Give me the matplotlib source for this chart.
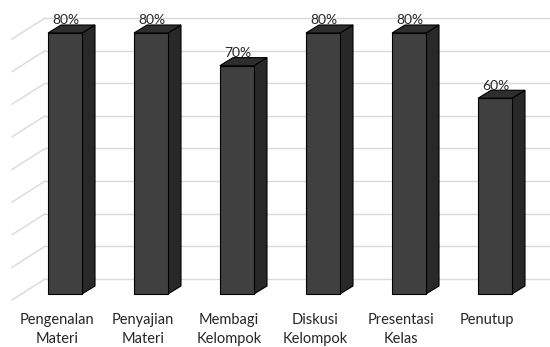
import matplotlib.pyplot as plt

## data
categories = ['Pengenalan\nMateri', 'Penyajian\nMateri', 'Membagi\nKelompok',
              'Diskusi\nKelompok', 'Presentasi\nKelas', 'Penutup']
values = [80, 80, 70, 80, 80, 60]
grid_values = [0, 10, 20, 30, 40, 50, 60, 70, 80]

plt.rcParams['font.family'] = ['Lato', 'DejaVu Sans']

## pixel scale helpers (1 index step = 86 px, 1% = 3.2625 px)
px_x = 1 / 86.0
px_y = 1 / 3.2625

fig = plt.figure(figsize=(5.5, 3.47), dpi=100)
ax = fig.add_axes([0, 0, 1, 1])
ax.set_xlim(-65 * px_x, 485 * px_x)
ax.set_ylim(-53 * px_y, 294 * px_y)
ax.axis('off')

# back wall / side wall gridlines
wall_dy = 15 * px_y
side_x = -53 * px_x
back_x = -20 * px_x
for g in grid_values:
    ax.plot([back_x, 485 * px_x], [g + wall_dy, g + wall_dy], color='#d9d9d9', lw=1.0, zorder=1)
    ax.plot([side_x, back_x], [g - 6 * px_y, g + wall_dy], color='#d9d9d9', lw=1.0, zorder=1)

# 3D bars
width = 34 * px_x
dx = 13 * px_x
dy = 8 * px_y
x = list(range(len(values)))
bars = ax.bar(x, values, width=width, color='#404040', edgecolor='black', lw=0.8, zorder=3)
for xi, v in zip(x, values):
    left = xi - width / 2
    right = xi + width / 2
    # side face
    ax.fill([right, right + dx, right + dx, right], [0, dy, v + dy, v],
            facecolor='#282828', edgecolor='black', lw=0.8, zorder=2)
    # top face
    ax.fill([left, right, right + dx, left + dx], [v, v, v + dy, v + dy],
            facecolor='#2e2e2e', edgecolor='black', lw=0.8, zorder=2)
    ax.text(xi + 1 * px_x, v + dy - 1.5 * px_y, '%d%%' % v, ha='center', va='bottom',
            fontsize=10, color='#262626', zorder=4)

for xi, c in zip(x, categories):
    ax.text(xi - 8 * px_x, -19 * px_y, c, ha='center', va='top', fontsize=10.5,
            color='#262626', linespacing=1.45)

plt.savefig('out.png', dpi=100)
